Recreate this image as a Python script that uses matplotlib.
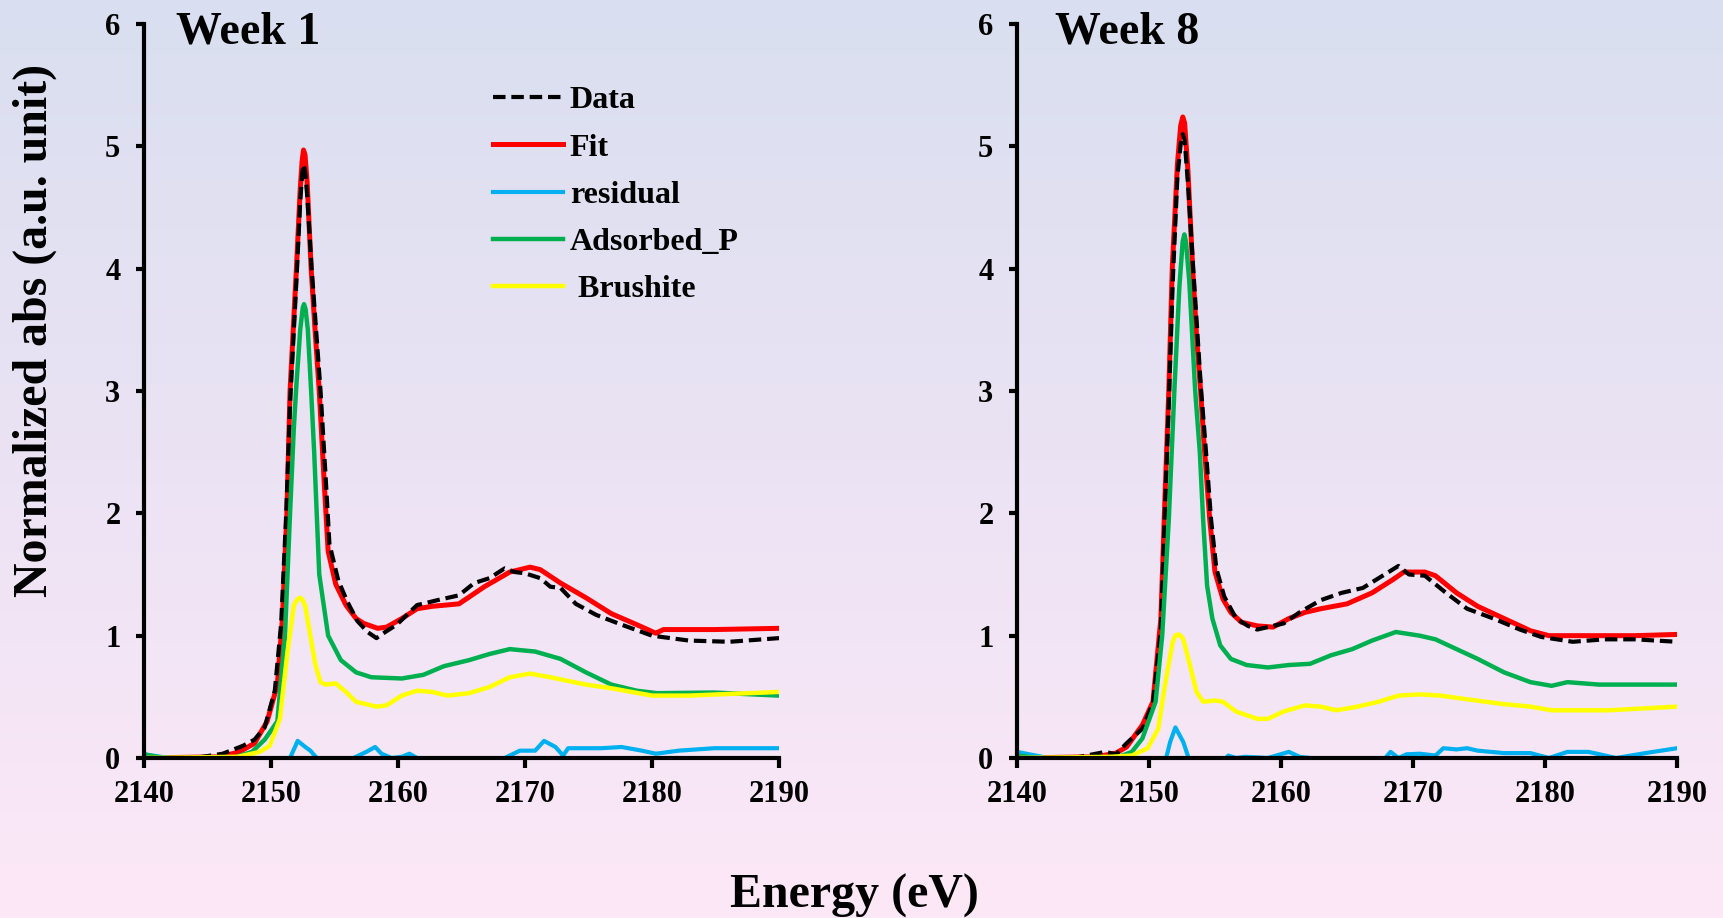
import matplotlib
matplotlib.use("Agg")
import matplotlib.pyplot as plt
import numpy as np
from matplotlib.colors import LinearSegmentedColormap

plt.rcParams['font.family'] = ['Liberation Serif', 'DejaVu Serif']
plt.rcParams['font.weight'] = 'bold'

# ---- Week 1 ----
e_data1 = [2140, 2144, 2146.2, 2147.8, 2148.7, 2149.5, 2150.3, 2150.8, 2151.2, 2151.5, 2152.0, 2152.3, 2152.45,
           2152.56, 2152.68, 2152.85, 2153.2, 2153.55, 2153.9, 2154.3, 2154.6, 2155.3, 2156.0, 2156.8, 2157.6,
           2158.3, 2159.0, 2159.9, 2160.7, 2161.5, 2163.1, 2164.8, 2166.0, 2167.2, 2168.4, 2169.2, 2170.0, 2171.2,
           2172.0, 2172.8, 2174.0, 2175.6, 2177.6, 2180.0, 2182.9, 2186.1, 2190]
data1 = [0, 0, 0.035, 0.10, 0.15, 0.25, 0.55, 1.1, 2.0, 2.9, 3.9, 4.55, 4.77,
         4.85, 4.8, 4.6, 4.0, 3.5, 3.0, 2.3, 1.75, 1.45, 1.28, 1.12, 1.03,
         0.98, 1.03, 1.09, 1.17, 1.25, 1.29, 1.33, 1.43, 1.47, 1.55, 1.52, 1.51, 1.47,
         1.40, 1.39, 1.26, 1.17, 1.09, 1.0, 0.96, 0.95, 0.98]

e_fit1 = [2140, 2146, 2147.5, 2148.7, 2149.7, 2150.5, 2150.9, 2151.25, 2151.5, 2152.0, 2152.3, 2152.45, 2152.56,
          2152.68, 2152.85, 2153.16, 2153.5, 2153.8, 2154.2, 2154.5, 2155.1, 2155.9, 2156.7, 2157.3, 2158.4,
          2159.1, 2160.3, 2161.5, 2162.7, 2164.8, 2166.8, 2168.8, 2170.4, 2171.2, 2172.8, 2174.8, 2176.8, 2178.8,
          2180.3, 2180.9, 2184.9, 2190]
fit1 = [0, 0.01, 0.05, 0.12, 0.30, 0.60, 1.14, 2.0, 3.0, 4.0, 4.65, 4.88, 4.97,
        4.93, 4.7, 4.0, 3.45, 3.0, 2.23, 1.69, 1.42, 1.25, 1.14, 1.10, 1.06,
        1.07, 1.14, 1.22, 1.24, 1.26, 1.40, 1.52, 1.56, 1.54, 1.43, 1.31, 1.18, 1.09,
        1.02, 1.05, 1.05, 1.06]

e_res1 = [2140, 2142, 2143, 2151.0, 2151.5, 2152.1, 2152.7, 2153.1, 2153.6, 2154.2, 2156.0, 2156.5, 2157.5, 2158.2,
          2158.7, 2159.5, 2160.3, 2160.9, 2161.5, 2162.2, 2167.0, 2168.4, 2169.6, 2170.8, 2171.5, 2172.4, 2173.0,
          2173.4, 2174.4, 2176.0, 2177.6, 2179.2, 2180.3, 2182.1, 2184.9, 2190]
res1 = [0.03, 0.0, -0.1, -0.1, 0.0, 0.14, 0.09, 0.06, 0.0, -0.2, -0.1, 0.0, 0.05, 0.09,
        0.035, 0.0, 0.01, 0.035, 0.0, -0.1, -0.05, 0.0, 0.06, 0.06, 0.14, 0.09, 0.02,
        0.08, 0.08, 0.08, 0.09, 0.06, 0.035, 0.06, 0.08, 0.08]

e_ads1 = [2140, 2141.5, 2147, 2148.5, 2149.5, 2150.5, 2151.1, 2151.5, 2151.8, 2152.0, 2152.3, 2152.5, 2152.6,
          2152.72, 2152.9, 2153.16, 2153.4, 2153.6, 2153.8, 2154.5, 2155.5, 2156.7, 2157.9, 2160.3, 2162.0, 2163.6,
          2165.6, 2167.2, 2168.8, 2170.8, 2172.8, 2174.8, 2176.8, 2178.8, 2180.4, 2184.9, 2190]
ads1 = [0.03, 0.0, 0.0, 0.05, 0.15, 0.30, 1.0, 2.0, 2.7, 3.05, 3.5, 3.68, 3.71,
        3.67, 3.5, 3.0, 2.5, 2.0, 1.5, 1.0, 0.8, 0.7, 0.66, 0.65, 0.68, 0.75,
        0.80, 0.85, 0.89, 0.87, 0.81, 0.70, 0.60, 0.55, 0.53, 0.535, 0.51]

e_bru1 = [2140, 2147.4, 2149.1, 2149.9, 2150.7, 2151.3, 2151.8, 2152.1, 2152.3, 2152.5, 2152.7, 2153.1, 2153.5,
          2153.9, 2154.3, 2155.1, 2155.9, 2156.7, 2158.3, 2159.1, 2160.3, 2161.5, 2162.7, 2163.9, 2165.6, 2167.2,
          2168.8, 2170.4, 2172.0, 2174.8, 2176.8, 2180.0, 2182.9, 2190]
bru1 = [0, 0.01, 0.05, 0.10, 0.32, 0.87, 1.25, 1.30, 1.31, 1.29, 1.24, 1.0, 0.76,
        0.62, 0.60, 0.61, 0.54, 0.46, 0.42, 0.43, 0.51, 0.55, 0.54, 0.51, 0.53, 0.58,
        0.66, 0.69, 0.66, 0.60, 0.57, 0.51, 0.51, 0.54]

# ---- Week 8 ----
e_data8 = [2140, 2144.3, 2146.7, 2147.5, 2148.3, 2149.5, 2150.3, 2150.9, 2151.2, 2151.5, 2151.8, 2152.15, 2152.4,
           2152.56, 2152.7, 2152.95, 2153.35, 2153.65, 2153.95, 2154.25, 2154.7, 2155.1, 2155.7, 2156.6, 2157.5,
           2158.2, 2159.0, 2160.2, 2161.4, 2163.0, 2164.6, 2166.2, 2167.7, 2168.9, 2169.7, 2170.9, 2172.5, 2174.1,
           2176.1, 2178.1, 2179.7, 2182.1, 2184.5, 2186.8, 2190]
data8 = [0, 0, 0.05, 0.03, 0.12, 0.24, 0.45, 1.05, 2.0, 2.9, 3.9, 4.75, 5.02,
         5.1, 5.05, 4.7, 4.0, 3.5, 3.0, 2.6, 1.95, 1.55, 1.32, 1.14, 1.08,
         1.05, 1.07, 1.10, 1.19, 1.29, 1.35, 1.39, 1.49, 1.57, 1.50, 1.49, 1.35, 1.22,
         1.14, 1.05, 0.99, 0.95, 0.97, 0.97, 0.95]

e_fit8 = [2140, 2146, 2147.5, 2148.3, 2149.5, 2150.3, 2150.9, 2151.2, 2151.5, 2151.76, 2152.15, 2152.4, 2152.56,
          2152.7, 2152.95, 2153.31, 2153.6, 2153.91, 2154.15, 2154.6, 2155.0, 2155.6, 2156.2, 2157.0, 2158.2,
          2159.4, 2160.6, 2161.8, 2163.0, 2165.0, 2166.9, 2168.5, 2169.3, 2170.9, 2171.7, 2173.3, 2174.9, 2176.9,
          2178.9, 2180.3, 2182.8, 2186.8, 2190]
fit8 = [0, 0.01, 0.04, 0.09, 0.27, 0.46, 1.14, 2.1, 3.0, 4.0, 4.85, 5.17, 5.24,
        5.19, 4.8, 4.0, 3.45, 3.0, 2.6, 1.95, 1.52, 1.30, 1.19, 1.11, 1.08,
        1.07, 1.14, 1.19, 1.22, 1.26, 1.35, 1.46, 1.52, 1.52, 1.49, 1.35, 1.24, 1.14,
        1.04, 1.0, 1.0, 1.0, 1.01]

e_res8 = [2140, 2141.9, 2143, 2151.0, 2151.3, 2151.6, 2152.0, 2152.6, 2153.0, 2153.5, 2155.5, 2156.0, 2156.6,
          2157.3, 2158.2, 2159.0, 2160.6, 2161.4, 2162.2, 2163.0, 2167.5, 2168.3, 2168.9, 2169.5, 2170.5, 2171.7,
          2172.3, 2173.3, 2174.1, 2174.9, 2176.9, 2178.9, 2180.3, 2181.7, 2183.3, 2185.4, 2187.6, 2190]
res8 = [0.05, 0.01, -0.1, -0.1, 0.0, 0.13, 0.25, 0.13, 0.0, -0.2, -0.05, 0.02, 0.0,
        0.01, 0.005, 0.0, 0.05, 0.01, 0.0, -0.1, -0.05, 0.05, 0.0, 0.03, 0.035, 0.02,
        0.08, 0.07, 0.08, 0.06, 0.04, 0.04, 0.0, 0.05, 0.05, 0.0, 0.04, 0.08]

e_ads8 = [2140, 2141.5, 2147.5, 2148.7, 2149.5, 2150.5, 2151.0, 2151.5, 2151.92, 2152.3, 2152.55, 2152.68, 2152.8,
          2153.05, 2153.5, 2153.85, 2154.1, 2154.4, 2154.8, 2155.4, 2156.2, 2157.4, 2159.0, 2160.6, 2162.2, 2163.8,
          2165.4, 2166.9, 2168.7, 2170.5, 2171.7, 2173.3, 2174.9, 2176.9, 2178.9, 2180.5, 2181.7, 2184.1, 2190]
ads8 = [0.02, 0.0, 0.0, 0.05, 0.16, 0.46, 1.0, 1.95, 3.0, 3.85, 4.22, 4.28, 4.22,
        3.9, 3.0, 2.5, 1.95, 1.41, 1.14, 0.92, 0.81, 0.76, 0.74, 0.76, 0.77, 0.84,
        0.89, 0.96, 1.03, 1.0, 0.97, 0.89, 0.81, 0.70, 0.62, 0.59, 0.62, 0.60, 0.60]

e_bru8 = [2140, 2147.1, 2148.7, 2149.9, 2150.7, 2151.2, 2151.8, 2152.0, 2152.2, 2152.4, 2152.6, 2153.1, 2153.6,
          2154.1, 2155.0, 2155.6, 2156.6, 2158.2, 2159.0, 2160.2, 2161.8, 2163.0, 2164.2, 2165.8, 2167.4, 2168.9,
          2170.5, 2172.1, 2174.1, 2176.9, 2178.9, 2180.5, 2184.8, 2190]
bru8 = [0, 0.01, 0.02, 0.08, 0.24, 0.59, 0.95, 1.0, 1.01, 1.0, 0.97, 0.76, 0.54,
        0.46, 0.47, 0.46, 0.38, 0.32, 0.32, 0.38, 0.43, 0.42, 0.39, 0.42, 0.46, 0.51,
        0.52, 0.51, 0.48, 0.44, 0.42, 0.39, 0.39, 0.42]

titles = ['Week 1', 'Week 8']
labels = ['Data', 'Fit', 'residual', 'Adsorbed_P', ' Brushite']
colors = ['black', '#ff0000', '#00b0f0', '#00b050', '#ffff00']

panels = [
    [(e_data1, data1), (e_fit1, fit1), (e_res1, res1), (e_ads1, ads1), (e_bru1, bru1)],
    [(e_data8, data8), (e_fit8, fit8), (e_res8, res8), (e_ads8, ads8), (e_bru8, bru8)],
]

W, H = 1723, 918
fig = plt.figure(figsize=(W / 100, H / 100), dpi=100)

# gradient background
bg = fig.add_axes([0, 0, 1, 1], zorder=-10)
grad = LinearSegmentedColormap.from_list('bg', ['#d9dff0', '#ebe3f4', '#fde8f7'])
bg.imshow(np.linspace(0, 1, 256).reshape(-1, 1), cmap=grad, aspect='auto', extent=[0, 1, 0, 1])
bg.axis('off')

# axes boxes in pixels: left, right, top, bottom
boxes = [(144, 779, 24, 758), (1017, 1677, 24, 758)]
title_x = [176, 1055]
widths = [3.0, 3.6, 3.0, 3.2, 3.2]
zorders = [2.3, 2.2, 2.4, 2.5, 2.6]

for i, (l, r, t, b) in enumerate(boxes):
    ax = fig.add_axes([l / W, 1 - b / H, (r - l) / W, (b - t) / H])
    ax.patch.set_alpha(0)
    for k, (e, v) in enumerate(panels[i]):
        ls = (0, (3.0, 1.4)) if k == 0 else '-'
        ax.plot(e, v, color=colors[k], lw=widths[k], ls=ls, label=labels[k], zorder=zorders[k],
                solid_joinstyle='round')
    ax.set_xlim(2140, 2190)
    ax.set_ylim(0, 6)
    ax.set_xticks(np.arange(2140, 2191, 10))
    ax.set_yticks(np.arange(0, 7, 1))
    for s in ['top', 'right']:
        ax.spines[s].set_visible(False)
    for s in ['left', 'bottom']:
        ax.spines[s].set_linewidth(3)
        ax.spines[s].set_zorder(3)
    ax.tick_params(axis='x', direction='out', length=7, width=3, labelsize=22, pad=9)
    ax.tick_params(axis='y', direction='out', length=6, width=3, labelsize=22, pad=11)
    for lab in ax.get_xticklabels() + ax.get_yticklabels():
        lab.set_fontweight('bold')
    fig.text(title_x[i] / W, 1 - 43 / H, titles[i], fontsize=33, fontweight='bold', va='baseline')
    if i == 0:
        h, lb = ax.get_legend_handles_labels()
        ax.legend(h, lb, loc='upper left', bbox_to_anchor=(493 / W, 1 - 86 / H), bbox_transform=fig.transFigure,
                  frameon=False, handlelength=2.2, handletextpad=0.2, labelspacing=0.56,
                  borderpad=0, borderaxespad=0, prop={'weight': 'bold', 'size': 23})

fig.text(35 / W, 1 - 330 / H, 'Normalized abs (a.u. unit)', rotation=90, ha='center', va='center',
         fontsize=34.5, fontweight='bold')
fig.text(854 / W, 1 - 908 / H, 'Energy (eV)', ha='center', va='baseline', fontsize=34.5, fontweight='bold')

fig.savefig('out.png', dpi=100)
